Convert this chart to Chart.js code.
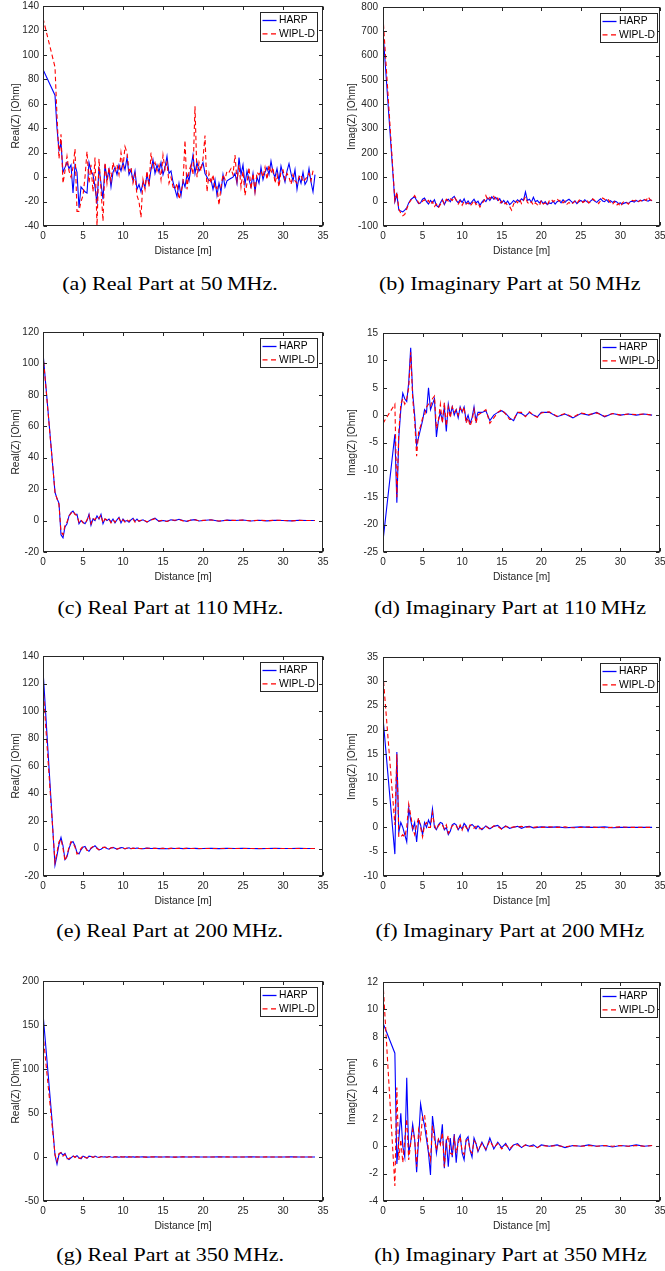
<!DOCTYPE html>
<html><head><meta charset="utf-8">
<script src="https://cdn.jsdelivr.net/npm/chart.js@4.4.1/dist/chart.umd.min.js"></script>
<style>
html,body{margin:0;padding:0;background:#fff;}
body{width:665px;height:1271px;overflow:hidden;position:relative;}
canvas{position:absolute;}
.cap{position:absolute;width:400px;text-align:center;font-family:"Liberation Serif","Times New Roman",serif;font-size:19px;line-height:20px;color:#000;white-space:nowrap;}
.cap span{display:inline-block;transform:scaleX(1.16);}
</style></head><body>
<script>
// ---------- DATA ----------
const distance50 = [0, 1.5, 1.75,
 2, 2.25, 2.5, 2.75, 3, 3.25, 3.5, 3.75, 4, 4.25, 4.5, 4.75, 5, 5.25, 5.5, 5.75,
 6, 6.25, 6.5, 6.75, 7, 7.25, 7.5, 7.75, 8, 8.25, 8.5, 8.75, 9, 9.25, 9.5, 9.75,
 10, 10.25, 10.5, 10.75, 11, 11.25, 11.5, 11.75, 12, 12.25, 12.5, 12.75, 13, 13.25, 13.5, 13.75,
 14, 14.25, 14.5, 14.75, 15, 15.25, 15.5, 15.75, 16, 16.25, 16.5, 16.75, 17, 17.25, 17.5, 17.75,
 18, 18.25, 18.5, 18.75, 19, 19.25, 19.5, 19.75, 20, 20.25, 20.5, 20.75, 21, 21.25, 21.5, 21.75,
 22, 22.25, 22.5, 22.75, 23, 23.25, 23.5, 23.75, 24, 24.25, 24.5, 24.75, 25, 25.25, 25.5, 25.75,
 26, 26.25, 26.5, 26.75, 27, 27.25, 27.5, 27.75, 28, 28.25, 28.5, 28.75, 29, 29.25, 29.5, 29.75,
 30, 30.25, 30.5, 30.75, 31, 31.25, 31.5, 31.75, 32, 32.25, 32.5, 32.75, 33, 33.25, 33.5, 33.75, 34];

const harpReal50 = [88, 67, 40,
 22, 28, 4, 8, 12, 7, 10, -13, 10, 4, -25, -8, -10, -12, -13, 12,
 5, 2, -8, -22, 8, -5, -18, 10, -2, 6, -8, 4, 8, 2, 10, 5,
 12, 6, 16, 2, 6, -3, 5, -10, -6, -12, -4, -8, 2, -5, 6, 14,
 3, 10, 4, 12, 2, 8, 17, 3, 5, -4, -10, -16, -5, -15, -3, -8,
 2, -3, 8, 18, 3, 12, 5, 8, 12, 3, 0, -3, -2, -10, -2, -15,
 -5, -12, 2, -8, -3, -2, -1, 0, 3, -5, 16, 2, 10, -6, 5, -2,
 -8, 3, -12, 0, -5, 8, -2, 4, 8, 2, 13, 4, 0, 7, -3, 9,
 2, -4, 5, 11, 3, -3, 6, -10, 0, -5, 4, -6, -3, 7, -4, -12, 2];
const wiplReal50 = [130, 90, 50,
 15, 35, -5, 5, 17, 5, 0, 8, 23, -28, -28, -20, -15, 0, 21, -5,
 10, -12, 16, -40, 15, -10, -36, 12, -5, 8, -3, 12, 5, 10, 2, 20,
 8, 25, 20, 5, 8, -5, 2, -15, -20, -33, -2, -10, 5, -8, 20, 8,
 12, 5, 10, -2, 18, 6, 12, -5, 0, -8, -10, -5, -18, -12, -5, 30,
 -10, 5, 10, 2, 58, 0, 12, 5, 15, 34, -12, 3, -5, 2, -10, -8,
 -23, -8, 2, -2, 5, 4, 7, 2, 18, -3, 10, -8, 5, -15, -5, 8,
 -10, 3, -12, 4, 2, 5, 0, 8, -2, 10, 3, 8, -5, 2, -8, 5,
 6, -2, 3, 0, -6, 2, -3, -5, 0, 2, -4, -2, 0, 3, -3, 5, 7];
const harpImag50 = [700, 0, 30,
 -35, -38, -42, -35, -25, -5, 8, 15, 20, 5, -8, -5, 10, 15, 0, -10,
 5, -5, 8, -15, -22, -5, 10, -12, 5, 10, 0, 15, 22, 5, -5, 8,
 -3, 12, -8, 3, -10, 0, 10, -5, 2, -15, -2, 8, 0, 15, 5, 20,
 10, 18, 5, 12, -5, 5, -8, 3, -12, -5, 5, -3, 8, 0, 12, 5,
 40, 5, 10, -3, 18, 0, 5, -5, 3, -8, 0, -12, -5, -8, 2, -10,
 0, 5, -5, 8, -3, 5, 10, 2, -5, 3, -8, 0, 5, -2, 8, 0,
 -5, 3, 10, 2, -3, 5, 12, 3, 0, 8, -2, 4, -3, 2, 0, -8,
 -5, -10, -6, -3, -8, 0, 2, -2, 5, 0, 6, 3, 8, 5, 2, 7, 4];
const wiplImag50 = [760, 5, 40,
 -30, -48, -58, -52, -30, -8, 5, 15, 25, 10, -5, -10, 2, 8, -2, 5,
 -12, 0, -20, -10, -25, -12, 5, -8, 10, 2, 12, 5, 20, 8, -10, 2,
 -15, 0, -10, -5, -18, -8, 5, -12, -5, -22, -8, 2, 25, 5, 18, 10,
 22, 5, 15, -8, 2, -12, -5, -15, -20, -35, -10, 5, -5, 10, -8, 5,
 20, -3, -10, 0, -15, -5, -12, -18, 5, -10, -5, -15, 3, 10, 0, 5,
 12, 2, 8, -5, 3, -10, -3, -12, -5, 2, -8, 5, 10, -3, 2, 8,
 -5, 0, 12, 5, 2, -8, 5, 15, 10, 2, 8, -5, -12, 0, -15, -8,
 -20, -5, 2, -3, -10, 0, 5, 3, 8, 0, 5, 2, 10, 5, 20, 8, 5];

const distance = [0, 1.5, 1.75, 2, 2.25, 2.5, 2.75,
 3, 3.25, 3.5, 3.75, 4, 4.25, 4.5, 4.75, 5, 5.25, 5.5, 5.75, 6, 6.25, 6.5, 6.75,
 7, 7.25, 7.5, 7.75, 8, 8.25, 8.5, 8.75, 9, 9.25, 9.5, 9.75, 10, 10.25, 10.5, 10.75, 11, 11.25, 11.5, 11.75,
 12, 12.5, 13, 13.5, 14, 14.5, 15, 15.5, 16, 16.5, 17, 17.5, 18, 18.5, 19, 19.5, 20,
 21, 22, 23, 24, 25, 26, 27, 28, 29, 30, 31, 32, 33, 34];

const harpReal110 = [107, 18, 14, 11, -9, -11, -4,
 -2, 3, 5, 6, 4, 4, -2, 0, -1, -2, 0, 4, -3, 1, 0, 3,
 1, 4, -2, 1, 0, 1, -1, 1, -1.5, 0.5, 2, -1.5, 1, -0.5, 0, -1, 0.5, 1.5, -0.5, 1,
 -0.5, 0.5, -1, 0.5, 1.5, -0.5, 0, -0.5, 0.5, 0, 0.8, 0, -0.5, 0.3, 0.6, -0.3, 0,
 0.5, -0.4, 0.3, 0, 0.4, -0.3, 0.2, -0.2, 0.2, 0, -0.2, 0.2, 0, 0];
const wiplReal110 = [106, 18, 14, 10, -7, -9, -3,
 -1, 3, 4.5, 6, 4, 3, -1, 0.5, -1.5, -2, 0.5, 3.5, -2, 1.5, 0.5, 2.5,
 1.5, 3.5, -1.5, 1, 0.5, 1, -1.5, 0.5, -1, 1, 1.5, -1, 0.5, -1, 0.5, -0.5, 1, 1, -1, 0.5,
 -0.3, 0.6, -0.8, 0.3, 1.2, -0.3, 0.2, -0.6, 0.4, 0.2, 0.6, -0.2, -0.4, 0.4, 0.5, -0.2, 0.1,
 0.4, -0.3, 0.2, 0.1, 0.3, -0.2, 0.2, -0.1, 0.2, 0.1, -0.2, 0.1, 0, 0];
const harpImag110 = [-23, -3.5, -16, -4, 1, 4, 3,
 2.5, 6, 12.3, 4, 0, -5.5, -4, -2.5, -1, 1, 0.5, 5, 1, 2, 3, -4,
 -1, 0.5, -1, 1.5, -3, 2, 0, 1.5, 0, 1, -0.5, 1.5, 0.5, 1.5, -1, 0, -1.5, -0.5, 1.5, -1,
 0.5, 0.5, 0.8, -1, 0, 0.5, 0.8, 0.3, -0.5, -1, 0.5, 0.3, -0.2, 0.5, 0, -0.3, 0.5,
 0.5, -0.3, 0.2, -0.5, 0.3, 0, 0.5, -0.3, 0.3, 0, 0.2, 0, 0.2, 0];
const wiplImag110 = [-1.5, 2, -15, -3, 2, 3, 2,
 3, 5, 11.5, 3, -1, -7.5, -3, -2, -0.5, 0, 1.5, 2, 1.5, 3, 3.5, -2.5,
 -1, 2, -1.5, 2.3, -2, 1.5, -0.5, 1.5, 0.5, 1, 0, 1.3, 0.5, 1.5, -1.5, -0.5, -2, -1, 1, -1.5,
 0, 0.5, 1, -1.5, -0.5, 0.5, 1, 0.2, -0.8, -0.8, 0.5, 0.5, -0.3, 0.6, 0, -0.4, 0.4,
 0.6, -0.2, 0.3, -0.4, 0.4, 0.1, 0.4, -0.2, 0.3, 0, 0.2, 0.1, 0.2, 0];

const harpReal200 = [130, -12, -5, 3, 8, 2, -8,
 -6, 0, 4, 5, 2, -3, -4, -1, 1, 1.5, -1, -2, 0, 1, 2, 0.5,
 -1, -0.5, 0.5, 1, 0, -0.5, 0.3, 0.8, 0.2, -0.5, 0, 0.6, 0.5, -0.3, 0.2, 0.5, -0.2, 0.3, 0, 0.4,
 0.1, -0.2, 0.3, 0, 0.2, -0.1, 0.1, -0.2, 0.1, 0, 0.15, -0.1, 0.1, 0, 0.1, -0.1, 0,
 0.1, -0.1, 0.1, 0, 0.1, 0, -0.1, 0, 0.1, 0, 0, 0.1, 0, 0];
const wiplReal200 = [118, -10, -3, 5, 7, 0, -9,
 -5, 1, 5, 4, 1, -4, -3, 0, 1.5, 1, -1.5, -1.5, 0.5, 1.5, 1.5, 0,
 -1, 0, 0.8, 0.8, -0.2, -0.4, 0.5, 0.6, 0, -0.4, 0.2, 0.5, 0.3, -0.2, 0.3, 0.4, -0.1, 0.2, 0.1, 0.3,
 0, -0.1, 0.2, 0.1, 0.1, -0.1, 0.1, -0.1, 0.1, 0.05, 0.1, -0.05, 0.1, 0, 0.05, -0.05, 0,
 0.05, -0.05, 0.05, 0, 0.05, 0, -0.05, 0, 0.05, 0, 0, 0.05, 0, 0];
const harpImag200 = [22.5, -5.5, 15.5, -1, 1, 0, -1.5,
 -3, 4, 1.5, -0.5, 1, -3, 1.5, 0.5, -1.5, 1, 0, 1.5, 0.5, 3.8, 0, -0.5,
 0.5, 1, 0.8, -0.5, 0, -1.5, -0.8, 0.5, 0.8, 0.5, -0.5, 0.2, -0.3, 0.8, 0.3, -0.8, 0.3, 0.6, 0.2, -0.3,
 0.3, -0.5, 0.3, -0.3, 0.2, 0.4, -0.3, 0.3, -0.2, 0, 0.2, -0.2, 0.1, 0.2, -0.1, 0, 0.1,
 0, 0.1, -0.1, 0, 0.1, 0, 0, 0.1, -0.1, 0, 0, 0, 0, 0];
const wiplImag200 = [31.5, 0.5, 15, -2, -2, -1.5, -2,
 0, 4.8, 2.5, 0, -1.5, 0.5, 2, 0, -2, 0.5, 1, 0, 0, 3, 0.5, -0.5,
 0.3, 0.8, 0.5, -0.3, 0.5, -1.2, -0.5, 0.3, 0.6, 0.3, -0.5, 0.5, -0.6, 0.5, 0, -0.5, 0.5, 0.3, -0.2, 0.2,
 -0.3, -0.3, 0.2, -0.4, 0.3, 0.2, -0.4, 0.2, -0.1, 0.1, 0.1, 0.2, 0, 0.1, 0, 0.1, 0,
 0.1, 0, 0.1, -0.1, 0, 0.1, 0, -0.1, 0, 0.1, 0, 0, 0, 0];

const harpReal350 = [163, 2, -8, 3, 5, 2, 4,
 -1, -3, -1, 1, 0, 1.5, -1, -2, 1, 0, -1.5, 1, 0.5, -0.5, 1, 0,
 -0.5, 0.5, 0, 0.3, -0.3, 0.5, 0, -0.2, 0.3, 0.1, -0.2, 0.2, 0, 0.2, -0.1, 0.1, 0, 0.1, -0.1, 0.1,
 0, 0.1, -0.1, 0, 0.1, 0, 0, 0.1, 0, -0.1, 0, 0.1, 0, 0, 0.1, 0, 0,
 0, 0.1, 0, 0, 0, 0.1, 0, 0, 0, 0, 0.1, 0, 0, 0];
const wiplReal350 = [140, 3, -5, 4, 5, 1, 3,
 -2, -2, 0, 1.5, -0.5, 1, -1.5, -1, 1.5, -0.5, -1, 0.5, 1, -0.5, 0.5, 0.3,
 -0.5, 0.3, 0.3, 0, -0.2, 0.3, 0.1, -0.2, 0.2, 0, -0.1, 0.2, 0, 0.1, -0.1, 0.1, 0, 0.1, 0, 0.1,
 0, 0, -0.1, 0.1, 0, 0, 0.1, 0, 0, -0.1, 0, 0.1, 0, 0, 0, 0, 0,
 0, 0, 0.1, 0, 0, 0, 0, 0.1, 0, 0, 0, 0, 0, 0];
const harpImag350 = [9, 6.8, -1.3, 0.5, 2.4, 0, -0.8,
 5, -0.5, 0.3, 1.6, 0.5, -1.9, 0.5, 3.1, 2.2, 1.5, 0.5, -0.5, -2.1, 2.2, 1, -0.5,
 0.5, 0.2, 1.6, -1.6, 0.5, -1.5, 0.6, -0.8, 0.9, -1.2, 0.5, 0.8, -0.5, -1, 0.5, 0.7, -0.3, -0.8, 0.6, 0.2,
 -0.4, 0.3, -0.3, 0.6, -0.2, 0.3, -0.1, 0.2, -0.3, 0.1, 0.2, -0.1, 0.1, 0, 0.1, -0.1, 0.1,
 0, 0.1, -0.1, 0.05, 0, 0.1, 0, 0.05, -0.05, 0.05, 0, 0.1, 0, 0.05];
const wiplImag350 = [12, -2.9, 4.3, -1, 0.5, -1.2, 0.5,
 2, -1, 0.2, 1.2, 0.5, -1.5, 1.2, 0.5, 2.2, 2.3, 1, -0.3, -1, 1.5, 0.5, -0.3,
 0.5, 0.1, 1, -1.5, 0.3, 0.8, -0.5, -0.6, 0.6, -0.5, 0.2, 0.7, -0.4, -0.6, 0.4, 0.5, -0.3, -0.5, 0.4, 0.2,
 -0.3, 0.2, -0.2, 0.4, -0.1, 0.2, -0.2, 0.1, -0.2, 0.1, 0.1, -0.1, 0.1, 0, 0, -0.1, 0.05,
 0, 0.05, -0.05, 0.05, 0, 0.05, 0, 0.05, 0, 0.05, 0, 0.05, 0, 0.05];

const seriesNames = ['HARP', 'WIPL-D'];
const xTitle = 'Distance [m]';
const captions = [
 '(a) Real Part at 50\u2009MHz.', '(b) Imaginary Part at 50\u2009MHz',
 '(c) Real Part at 110\u2009MHz.', '(d) Imaginary Part at 110\u2009MHz',
 '(e) Real Part at 200\u2009MHz.', '(f) Imaginary Part at 200\u2009MHz',
 '(g) Real Part at 350\u2009MHz.', '(h) Imaginary Part at 350\u2009MHz'];

// ---------- PANELS ----------
const panels = [
 {x: distance50, harp: harpReal50, wipl: wiplReal50, yMin: -40, yMax: 140, yStep: 20, yTitle: 'Real(Z) [Ohm]'},
 {x: distance50, harp: harpImag50, wipl: wiplImag50, yMin: -100, yMax: 800, yStep: 100, yTitle: 'Imag(Z) [Ohm]'},
 {x: distance, harp: harpReal110, wipl: wiplReal110, yMin: -20, yMax: 120, yStep: 20, yTitle: 'Real(Z) [Ohm]'},
 {x: distance, harp: harpImag110, wipl: wiplImag110, yMin: -25, yMax: 15, yStep: 5, yTitle: 'Imag(Z) [Ohm]'},
 {x: distance, harp: harpReal200, wipl: wiplReal200, yMin: -20, yMax: 140, yStep: 20, yTitle: 'Real(Z) [Ohm]'},
 {x: distance, harp: harpImag200, wipl: wiplImag200, yMin: -10, yMax: 35, yStep: 5, yTitle: 'Imag(Z) [Ohm]'},
 {x: distance, harp: harpReal350, wipl: wiplReal350, yMin: -50, yMax: 200, yStep: 50, yTitle: 'Real(Z) [Ohm]'},
 {x: distance, harp: harpImag350, wipl: wiplImag350, yMin: -4, yMax: 12, yStep: 2, yTitle: 'Imag(Z) [Ohm]'}
];

// ---------- LAYOUT ----------
const COLS = [
 {left: 0, width: 333, yAxisW: 43, titlePad: 10, tickPad: 4, legendRight: 6, capX: 170},
 {left: 335, width: 335, yAxisW: 48, titlePad: 11, tickPad: 5, legendRight: 3.5, capX: 510}
];
const ROW_TOP = [6, 332, 656, 981];
const CAP_Y = [284, 607.5, 931, 1254.5];
const PAD_TOP = 10, PAD_RIGHT = 10, PLOT_H = 220, X_AXIS_H = 31;
const AXIS_COLOR = '#262626';
const FONT = 'Liberation Sans';

const framePlugin = {
 id: 'frame',
 afterDatasetsDraw(chart, args, opts) {
  const {ctx, chartArea: a, scales} = chart;
  const xs = scales.x, ys = scales.y;
  const L = Math.round(a.left) + 0.5, R = Math.round(a.right) - 0.5;
  const T = Math.round(a.top) + 0.5, B = Math.round(a.bottom) - 0.5;
  const tl = 3.5;
  ctx.save();
  ctx.strokeStyle = AXIS_COLOR; ctx.lineWidth = 1; ctx.setLineDash([]);
  ctx.beginPath();
  xs.ticks.forEach(t => {
   const p = Math.round(xs.getPixelForValue(t.value)) + 0.5;
   ctx.moveTo(p, B); ctx.lineTo(p, B - tl);
   ctx.moveTo(p, T); ctx.lineTo(p, T + tl);
  });
  ys.ticks.forEach(t => {
   const p = Math.round(ys.getPixelForValue(t.value)) + 0.5;
   ctx.moveTo(L, p); ctx.lineTo(L + tl, p);
   ctx.moveTo(R, p); ctx.lineTo(R - tl, p);
  });
  ctx.stroke();
  ctx.strokeRect(L, T, R - L, B - T);
  // legend
  ctx.font = '10.3px "' + FONT + '"';
  const ds = chart.data.datasets;
  const tw = Math.max(...ds.map(d => ctx.measureText(d.label).width));
  const w = Math.round(2 + 14 + 2.5 + tw + 2.5), h = 29;
  const bx = Math.round(a.right - opts.legendRight - w) + 0.5;
  const by = Math.round(a.top + 5.5) + 0.5;
  ctx.fillStyle = '#fff';
  ctx.fillRect(bx, by, w, h);
  ctx.strokeStyle = AXIS_COLOR;
  ctx.strokeRect(bx, by, w, h);
  ds.forEach((d, i) => {
   const cy = by + 8 + i * 13.3;
   ctx.strokeStyle = d.borderColor; ctx.lineWidth = 1.3;
   ctx.setLineDash(i === 1 ? [5, 3.5] : []);
   ctx.beginPath(); ctx.moveTo(bx + 2, cy); ctx.lineTo(bx + 16, cy); ctx.stroke();
   ctx.setLineDash([]);
   ctx.fillStyle = '#000'; ctx.textBaseline = 'middle'; ctx.textAlign = 'left';
   ctx.fillText(d.label, bx + 18.5, cy);
  });
  ctx.restore();
 }
};

const toXY = (xs, ys) => xs.map((x, i) => ({x: x, y: ys[i]}));

panels.forEach((p, idx) => {
 const col = COLS[idx % 2], row = Math.floor(idx / 2);
 const cv = document.createElement('canvas');
 const H = PAD_TOP + PLOT_H + X_AXIS_H;
 cv.width = col.width; cv.height = H;
 cv.style.left = col.left + 'px';
 cv.style.top = (ROW_TOP[row] - PAD_TOP) + 'px';
 cv.style.width = col.width + 'px'; cv.style.height = H + 'px';
 document.body.appendChild(cv);

 new Chart(cv, {
  type: 'line',
  data: {datasets: [
   {label: seriesNames[0], data: toXY(p.x, p.harp), borderColor: '#0000ff', borderWidth: 1.1, pointRadius: 0, fill: false, tension: 0, order: 1},
   {label: seriesNames[1], data: toXY(p.x, p.wipl), borderColor: '#ff0000', borderWidth: 1.1, borderDash: [4.5, 3], pointRadius: 0, fill: false, tension: 0, order: 0}
  ]},
  options: {
   responsive: false, animation: false, events: [],
   layout: {padding: {top: PAD_TOP, right: PAD_RIGHT, left: 0, bottom: 0}},
   plugins: {legend: {display: false}, tooltip: {enabled: false}, frame: {legendRight: col.legendRight}},
   scales: {
    x: {type: 'linear', min: 0, max: 35,
     grid: {display: false, drawTicks: false}, border: {display: false},
     ticks: {stepSize: 5, autoSkip: false, maxRotation: 0, padding: 4, color: AXIS_COLOR, font: {family: FONT, size: 10}},
     title: {display: true, text: xTitle, color: AXIS_COLOR, font: {family: FONT, size: 10.3}, padding: {top: 0, bottom: 0}},
     afterFit: s => { s.height = X_AXIS_H; }
    },
    y: {type: 'linear', min: p.yMin, max: p.yMax,
     grid: {display: false, drawTicks: false}, border: {display: false},
     ticks: {stepSize: p.yStep, autoSkip: false, padding: col.tickPad, color: AXIS_COLOR, font: {family: FONT, size: 10}},
     title: {display: true, text: p.yTitle, color: AXIS_COLOR, font: {family: FONT, size: 10.3}, padding: {top: col.titlePad, bottom: 0}},
     afterFit: s => { s.width = col.yAxisW; }
    }
   }
  },
  plugins: [framePlugin]
 });

 const cap = document.createElement('div');
 cap.className = 'cap';
 cap.style.left = (col.capX - 200) + 'px';
 cap.style.top = (CAP_Y[row] - 10) + 'px';
 const sp = document.createElement('span');
 sp.textContent = captions[idx];
 cap.appendChild(sp);
 document.body.appendChild(cap);
});
</script>
</body></html>
